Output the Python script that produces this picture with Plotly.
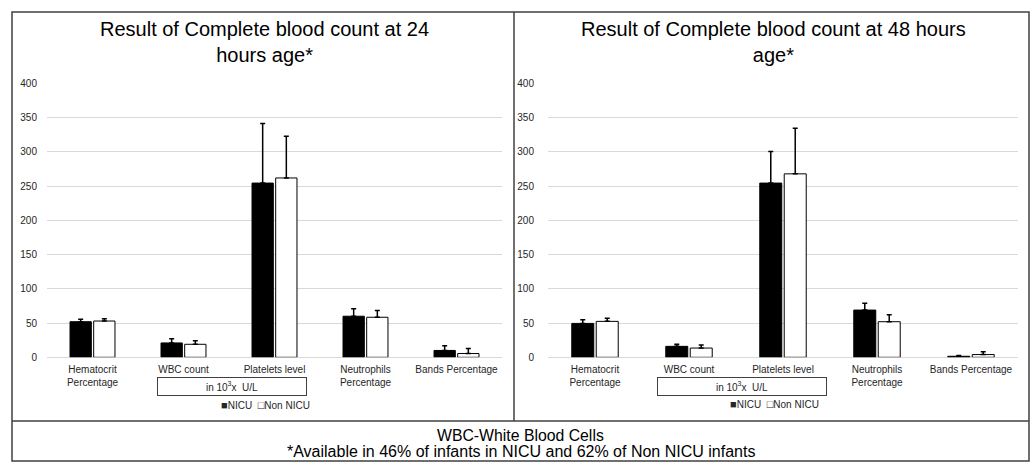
import plotly.graph_objects as go

W, H = 1032, 464

categories = ["Hematocrit<br>Percentage", "WBC count", "Platelets level",
              "Neutrophils<br>Percentage", "Bands Percentage"]

nicu_24 = [52, 21, 254.5, 60, 10]
nicu_24_sd = [3.5, 6, 87, 11, 7]
non_nicu_24 = [53, 19, 262, 58.5, 5.5]
non_nicu_24_sd = [3.5, 5, 61, 10, 7.5]

nicu_48 = [49.5, 16, 254.5, 69, 1.5]
nicu_48_sd = [5.5, 3, 46, 10, 1]
non_nicu_48 = [52.5, 13.5, 268, 52, 4]
non_nicu_48_sd = [4.5, 4.5, 66.5, 10, 4]

title_24 = "Result of Complete blood count at 24<br>hours age*"
title_48 = "Result of Complete blood count at 48 hours<br>age*"
unit_label = "in 10<sup>3</sup>x  U/L"
legend_names = ["NICU", "Non NICU"]
legend_symbols = ["■", "□"]
footnote_1 = "WBC-White Blood Cells"
footnote_2 = "*Available in 46% of infants in NICU and 62% of Non NICU infants"

FONT = "Liberation Sans, Arial, Helvetica, sans-serif"
BORDER = "#404040"
TICK = "#262626"


def px(x):
    return x / W


def py(y):
    return 1 - y / H


def err(sd):
    return dict(type="data", symmetric=False, array=sd, arrayminus=[0] * len(sd),
                color="black", thickness=1.5, width=2.5, visible=True)


fig = go.Figure()

for (vals, sd, name, fill, xa, ya) in [
    (nicu_24, nicu_24_sd, legend_names[0], "black", "x", "y"),
    (non_nicu_24, non_nicu_24_sd, legend_names[1], "white", "x", "y"),
    (nicu_48, nicu_48_sd, legend_names[0], "black", "x2", "y2"),
    (non_nicu_48, non_nicu_48_sd, legend_names[1], "white", "x2", "y2"),
]:
    fig.add_trace(go.Bar(
        x=categories, y=vals, name=name, xaxis=xa, yaxis=ya,
        marker=dict(color=fill, line=dict(color="black", width=1)),
        error_y=err(sd), showlegend=False, hoverinfo="skip",
    ))

y_dom = [py(357.3), py(83.5)]
xcommon = dict(type="category", showgrid=False, showline=False, ticks="",
               zeroline=False, tickfont=dict(size=10, color=TICK, family=FONT),
               ticklabelstandoff=5, automargin=False)
ycommon = dict(range=[0, 400], dtick=50, showgrid=True, gridcolor="#d9d9d9",
               gridwidth=1, zeroline=True, zerolinecolor="#d9d9d9", zerolinewidth=1,
               showline=False, ticks="", automargin=False,
               tickfont=dict(size=10, color=TICK, family=FONT))

fig.update_layout(
    width=W, height=H,
    margin=dict(l=0, r=0, t=0, b=0, pad=0, autoexpand=False),
    paper_bgcolor="white", plot_bgcolor="white",
    font=dict(family=FONT, color="black"),
    barmode="group", bargap=0.48, bargroupgap=0.1,
    showlegend=False,
    xaxis=dict(domain=[px(47), px(502)], anchor="y", **xcommon),
    yaxis=dict(domain=y_dom, anchor="x", ticklabelstandoff=9, **ycommon),
    xaxis2=dict(domain=[px(548), px(1018)], anchor="y2", **xcommon),
    yaxis2=dict(domain=y_dom, anchor="x2", ticklabelstandoff=13, **ycommon),
)

# frame lines
line = dict(color=BORDER, width=1.5)
fig.add_shape(type="rect", xref="paper", yref="paper",
              x0=px(12), x1=px(1029), y0=py(461), y1=py(12), line=line)
fig.add_shape(type="line", xref="paper", yref="paper",
              x0=px(514), x1=px(514), y0=py(421), y1=py(12), line=line)
fig.add_shape(type="line", xref="paper", yref="paper",
              x0=px(12), x1=px(1029), y0=py(421), y1=py(421), line=line)

legend_text = "  ".join(
    "<span style='font-size:11px'>%s</span>%s" % (s, n)
    for s, n in zip(legend_symbols, legend_names)
)

ann = []
ann.append(dict(text=title_24, x=px(264), y=py(42.5), xref="paper", yref="paper",
                showarrow=False, xanchor="center", yanchor="middle",
                font=dict(size=20, color="black", family=FONT)))
ann.append(dict(text=title_48, x=px(773), y=py(42.5), xref="paper", yref="paper",
                showarrow=False, xanchor="center", yanchor="middle",
                font=dict(size=20, color="black", family=FONT)))
for cx, bw in [(232, 150), (742, 170)]:
    ann.append(dict(text=unit_label, x=px(cx), y=py(386.5), xref="paper", yref="paper",
                    showarrow=False, xanchor="center", yanchor="middle",
                    width=bw - 4, height=15, borderpad=1, borderwidth=1,
                    bordercolor=BORDER, bgcolor="white",
                    font=dict(size=10, color=TICK, family=FONT)))
for cx, cy in [(265, 404.5), (774.5, 403.5)]:
    ann.append(dict(text=legend_text, x=px(cx), y=py(cy), xref="paper", yref="paper",
                    showarrow=False, xanchor="center", yanchor="middle",
                    font=dict(size=10, color=TICK, family=FONT)))
ann.append(dict(text=footnote_1, x=px(520.5), y=py(435), xref="paper", yref="paper",
                showarrow=False, xanchor="center", yanchor="middle",
                font=dict(size=15.8, color="black", family=FONT)))
ann.append(dict(text=footnote_2, x=px(520.5), y=py(451), xref="paper", yref="paper",
                showarrow=False, xanchor="center", yanchor="middle",
                font=dict(size=16, color="black", family=FONT)))
fig.update_layout(annotations=ann)

fig.write_html(
    "out.html",
    config={"displayModeBar": False},
    post_script="document.body.style.margin='0';document.body.style.overflow='hidden';",
)
